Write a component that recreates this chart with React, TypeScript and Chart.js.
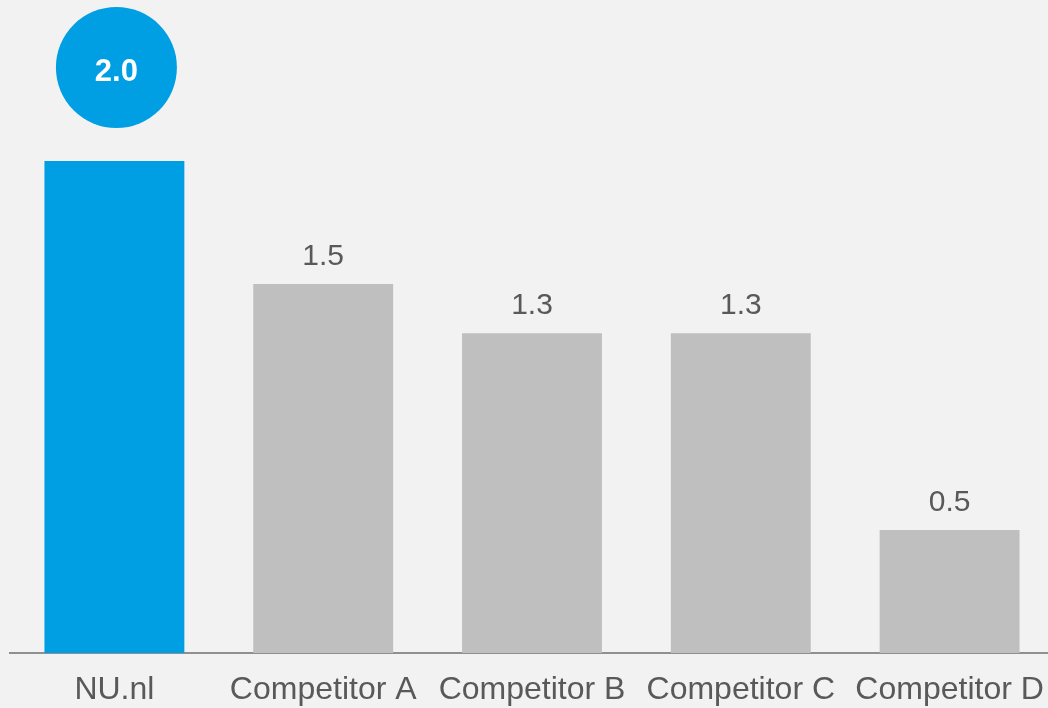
import React, { useEffect, useRef } from "react";
import { Chart, registerables } from "chart.js";

Chart.register(...registerables);

const categories = ["NU.nl", "Competitor A", "Competitor B", "Competitor C", "Competitor D"];
const values = [2.0, 1.5, 1.3, 1.3, 0.5];
const barColors = ["#009FE3", "#BFBFBF", "#BFBFBF", "#BFBFBF", "#BFBFBF"];
const yMax = 2.6545;

const FONT = "'Liberation Sans', Arial, sans-serif";

const labelPlugin = {
  id: "valueLabels",
  afterDatasetsDraw(chart: any) {
    const ctx = chart.ctx;
    const meta = chart.getDatasetMeta(0);
    ctx.save();
    meta.data.forEach((bar: any, i: number) => {
      const v = values[i];
      const txt = v.toFixed(1);
      if (i === 0) {
        const cx = bar.x + 2;
        const cy = bar.y - 93.5;
        ctx.beginPath();
        ctx.arc(cx, cy, 60.5, 0, Math.PI * 2);
        ctx.fillStyle = "#009FE3";
        ctx.fill();
        ctx.fillStyle = "#FFFFFF";
        ctx.font = `bold 31px ${FONT}`;
        ctx.textAlign = "center";
        ctx.textBaseline = "alphabetic";
        ctx.fillText(txt, cx, cy + 13.5);
      } else {
        ctx.fillStyle = "#595959";
        ctx.font = `30px ${FONT}`;
        ctx.textAlign = "center";
        ctx.textBaseline = "alphabetic";
        ctx.fillText(txt, bar.x, bar.y - 19);
      }
    });
    ctx.restore();
  },
};

export default function App() {
  const ref = useRef<HTMLCanvasElement | null>(null);
  useEffect(() => {
    document.body.style.margin = "0";
    document.body.style.background = "#F2F2F2";
    const chart = new Chart(ref.current as HTMLCanvasElement, {
      type: "bar",
      data: {
        labels: categories,
        datasets: [
          {
            data: values,
            backgroundColor: barColors,
            borderWidth: 0,
            barPercentage: 0.67,
            categoryPercentage: 1,
          },
        ],
      },
      options: {
        animation: false,
        responsive: false,
        maintainAspectRatio: false,
        layout: { padding: { left: 10, right: 2, top: 0, bottom: 0 } },
        plugins: { legend: { display: false }, tooltip: { enabled: false } },
        scales: {
          y: { display: false, min: 0, max: yMax },
          x: {
            grid: { display: false, drawTicks: true, tickLength: 18 },
            border: { display: true, color: "#909090", width: 2 },
            ticks: {
              color: "#595959",
              font: { family: FONT, size: 32 },
              padding: 0,
              maxRotation: 0,
              autoSkip: false,
            },
            afterFit(scale: any) {
              scale.height = 55;
            },
          },
        },
      },
      plugins: [labelPlugin],
    });
    return () => chart.destroy();
  }, []);
  return (
    <div style={{ width: 1048, height: 708, background: "#F2F2F2", overflow: "hidden" }}>
      <canvas ref={ref} width={1056} height={708} style={{ display: "block" }} />
    </div>
  );
}
